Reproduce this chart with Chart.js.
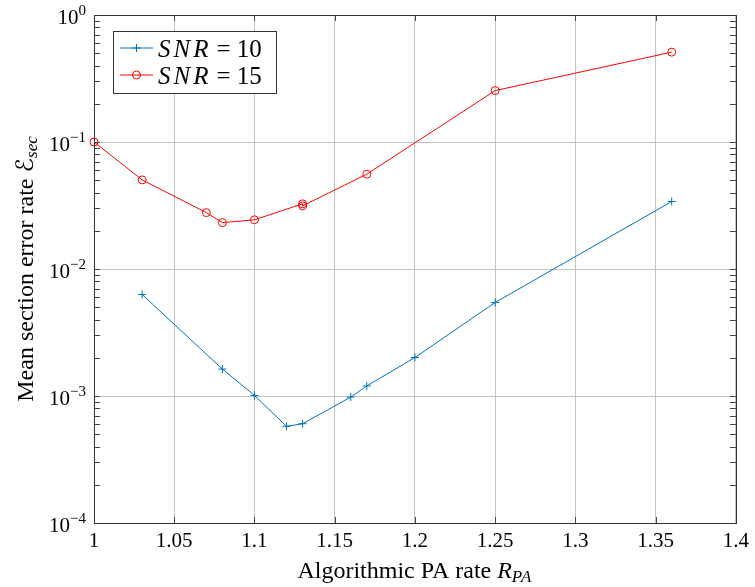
<!DOCTYPE html>
<html><head><meta charset="utf-8">
<script src="https://cdn.jsdelivr.net/npm/chart.js@4"></script>
<style>html,body{margin:0;padding:0;background:#fff}#wrap{width:755px;height:587px}</style>
</head><body><div id="wrap"><canvas id="c" width="755" height="587"></canvas></div>
<script>
// ---- data ----
const xSNR10 = [1.03, 1.08, 1.10, 1.12, 1.13, 1.16, 1.17, 1.20, 1.25, 1.36];
const ySNR10 = [0.0063, 0.00163, 0.00101, 0.000577, 0.000605, 0.00098, 0.0012, 0.00201, 0.00545, 0.034];
const xSNR15 = [1.00, 1.03, 1.07, 1.08, 1.10, 1.13, 1.13, 1.17, 1.25, 1.36];
const ySNR15 = [0.1, 0.0503, 0.0278, 0.0232, 0.0244, 0.0326, 0.0314, 0.0558, 0.254, 0.51];
const xTicks = [1, 1.05, 1.1, 1.15, 1.2, 1.25, 1.3, 1.35, 1.4];
const yTicks = [1e-4, 1e-3, 1e-2, 1e-1, 1];
const seriesNames = ['SNR', 'SNR'];
const seriesValues = ['10', '15'];
const xTitle = 'Algorithmic PA rate ';
const xTitleMath = ['R', 'PA'];
const yTitle = 'Mean section error rate ';
const yTitleMath = ['\u2130', 'sec'];

const SERIF = '"Liberation Serif", "DejaVu Serif", serif';
const BLUE = '#0072BD', RED = '#FF0000';

function toPts(xs, ys) { return xs.map((x, i) => ({x: x, y: ys[i]})); }

function richWidth(ctx, parts) {
  let w = 0;
  parts.forEach(p => { ctx.font = p.font; ctx.letterSpacing = p.ls || '0px'; w += ctx.measureText(p.t).width; });
  ctx.letterSpacing = '0px';
  return w;
}
function drawRich(ctx, parts, x, y) {
  let cx = x;
  parts.forEach(p => {
    ctx.font = p.font;
    ctx.letterSpacing = p.ls || '0px';
    ctx.fillText(p.t, cx, y + (p.dy || 0));
    cx += ctx.measureText(p.t).width;
  });
  ctx.letterSpacing = '0px';
}

const decor = {
  id: 'decor',
  afterDraw(chart) {
    const ctx = chart.ctx, a = chart.chartArea;
    const xs = chart.scales.x, ys = chart.scales.y;
    ctx.save();
    // tick marks inside
    ctx.strokeStyle = '#444';
    ctx.lineWidth = 1;
    ctx.beginPath();
    const TL = 6;
    xTicks.forEach(v => {
      const px = Math.round(xs.getPixelForValue(v)) + 0.5;
      ctx.moveTo(px, a.bottom); ctx.lineTo(px, a.bottom - TL);
      ctx.moveTo(px, a.top); ctx.lineTo(px, a.top + TL);
    });
    for (let k = -4; k <= 0; k++) {
      for (let m = 1; m <= 9; m++) {
        const v = m * Math.pow(10, k);
        if (v > 1.0000001) break;
        const py = Math.round(ys.getPixelForValue(v)) + 0.5;
        ctx.moveTo(a.left, py); ctx.lineTo(a.left + TL, py);
        ctx.moveTo(a.right, py); ctx.lineTo(a.right - TL, py);
      }
    }
    ctx.stroke();
    // frame
    ctx.strokeStyle = '#333';
    ctx.strokeRect(Math.round(a.left) + 0.5, Math.round(a.top) + 0.5, Math.round(a.right - a.left), Math.round(a.bottom - a.top));

    // y tick labels 10^k
    ctx.fillStyle = '#000';
    ctx.textAlign = 'left';
    ctx.textBaseline = 'alphabetic';
    yTicks.forEach(v => {
      const k = Math.round(Math.log10(v));
      const e = k < 0 ? '\u2212' + (-k) : String(k);
      const py = ys.getPixelForValue(v);
      const parts = [
        {t: '10', font: '21px ' + SERIF},
        {t: e, font: '15px ' + SERIF, dy: -9}
      ];
      const w = richWidth(ctx, parts);
      drawRich(ctx, parts, a.left - 8 - w, py + 9);
    });

    // legend
    const lx = 113.5, ly = 31.5, lw = 163, lh = 62;
    ctx.fillStyle = '#fff';
    ctx.fillRect(lx, ly, lw, lh);
    ctx.strokeStyle = '#333';
    ctx.strokeRect(lx, ly, lw, lh);
    const rows = [48, 75];
    chart.data.datasets.forEach((ds, i) => {
      const y = rows[i];
      ctx.strokeStyle = ds.borderColor;
      ctx.lineWidth = 1;
      ctx.beginPath(); ctx.moveTo(120, y); ctx.lineTo(153, y); ctx.stroke();
      ctx.fillStyle = 'rgba(0,0,0,0)';
      Chart.helpers.drawPoint(ctx, {pointStyle: ds.pointStyle, radius: ds.pointRadius, borderWidth: 1}, 136.5, y);
      ctx.fillStyle = '#000';
      ctx.textBaseline = 'alphabetic';
      ctx.textAlign = 'left';
      drawRich(ctx, [
        {t: seriesNames[i], font: 'italic 25px ' + SERIF, ls: '3px'},
        {t: '\u2009= ', font: '25px ' + SERIF},
        {t: seriesValues[i], font: '25px ' + SERIF}
      ], 158, y + 9);
    });

    // axis titles
    ctx.fillStyle = '#000';
    ctx.textBaseline = 'alphabetic';
    ctx.textAlign = 'left';
    const xParts = [
      {t: xTitle, font: '24px ' + SERIF},
      {t: xTitleMath[0], font: 'italic 24px ' + SERIF},
      {t: xTitleMath[1], font: 'italic 17px ' + SERIF, dy: 4, ls: '1px'}
    ];
    const xw = richWidth(ctx, xParts);
    drawRich(ctx, xParts, (a.left + a.right) / 2 - xw / 2, 578);

    const yParts = [
      {t: yTitle, font: '24px ' + SERIF},
      {t: yTitleMath[0], font: '24px "DejaVu Sans", "Noto Sans", sans-serif'},
      {t: yTitleMath[1], font: 'italic 17px ' + SERIF, dy: 4}
    ];
    const yw = richWidth(ctx, yParts);
    ctx.translate(33, (a.top + a.bottom) / 2);
    ctx.rotate(-Math.PI / 2);
    drawRich(ctx, yParts, -yw / 2, 0);
    ctx.restore();
  }
};

new Chart(document.getElementById('c'), {
  type: 'line',
  data: {
    datasets: [
      {label: seriesNames[0] + ' = ' + seriesValues[0], data: toPts(xSNR10, ySNR10), borderColor: BLUE, backgroundColor: BLUE,
       borderWidth: 1, pointStyle: 'cross', pointRadius: 4, pointBorderWidth: 1, pointBorderColor: BLUE, tension: 0, clip: false},
      {label: seriesNames[1] + ' = ' + seriesValues[1], data: toPts(xSNR15, ySNR15), borderColor: RED, backgroundColor: 'rgba(0,0,0,0)',
       borderWidth: 1, pointStyle: 'circle', pointRadius: 4, pointBorderWidth: 1, pointBorderColor: RED,
       pointBackgroundColor: 'rgba(0,0,0,0)', tension: 0, clip: false}
    ]
  },
  options: {
    responsive: false,
    animation: false,
    devicePixelRatio: 1,
    layout: {padding: {top: 15, right: 16, left: 0, bottom: 0}},
    plugins: {legend: {display: false}, tooltip: {enabled: false}},
    elements: {point: {hoverRadius: 4}},
    scales: {
      x: {
        type: 'linear', min: 1, max: 1.4,
        afterBuildTicks: s => { s.ticks = xTicks.map(v => ({value: v})); },
        afterFit: s => { s.height = 64; },
        border: {display: false},
        grid: {color: '#c4c4c4', lineWidth: 1, drawTicks: false},
        ticks: {padding: 6, color: '#000', font: {family: SERIF, size: 21}, maxRotation: 0, autoSkip: false,
                callback: v => String(Number(v.toFixed(2)))}
      },
      y: {
        type: 'logarithmic', min: 1e-4, max: 1,
        afterBuildTicks: s => { s.ticks = yTicks.map(v => ({value: v, major: true})); },
        afterFit: s => { s.width = 94; },
        border: {display: false},
        grid: {color: '#c4c4c4', lineWidth: 1, drawTicks: false},
        ticks: {display: false}
      }
    }
  },
  plugins: [decor]
});
</script>
</body></html>
